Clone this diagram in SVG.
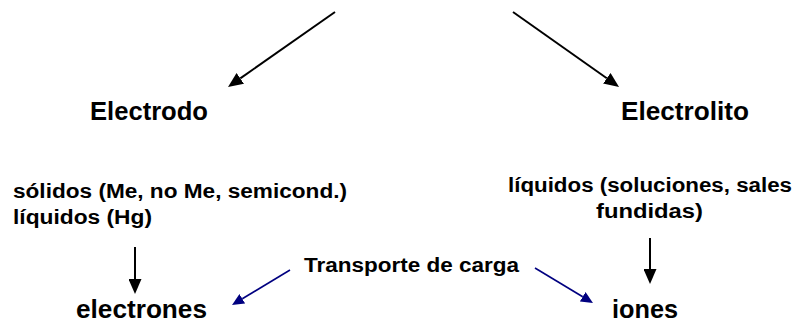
<svg xmlns="http://www.w3.org/2000/svg" width="797" height="323" viewBox="0 0 797 323">
<style>
text{font-family:"Liberation Sans",Arial,sans-serif;font-weight:bold;fill:#000}
.big{font-size:25px}
.small{font-size:20px}
.blk{stroke:#000;stroke-width:2;fill:none}
.blu{stroke:#000080;stroke-width:1.6;fill:none}
</style>
<defs>
<marker id="ah" markerUnits="userSpaceOnUse" markerWidth="15" markerHeight="13" refX="0" refY="6.5" orient="auto"><path d="M0,0 L15,6.5 L0,13 z" fill="#000"/></marker>
<marker id="ahb" markerUnits="userSpaceOnUse" markerWidth="12" markerHeight="11" refX="0" refY="5.5" orient="auto"><path d="M0,0 L12,5.5 L0,11 z" fill="#000080"/></marker>
</defs>
<rect width="797" height="323" fill="#fff"/>
<g id="electrodo"><text class="big" x="90" y="120" textLength="118" lengthAdjust="spacingAndGlyphs">Electrodo</text></g>
<g id="electrolito"><text class="big" x="621" y="120" textLength="128" lengthAdjust="spacingAndGlyphs">Electrolito</text></g>
<g id="solidos">
<text class="small" x="13" y="198" textLength="334" lengthAdjust="spacingAndGlyphs">sólidos (Me, no Me, semicond.)</text>
<text class="small" x="13" y="224" textLength="139" lengthAdjust="spacingAndGlyphs">líquidos (Hg)</text>
</g>
<g id="liquidos">
<text class="small" x="508" y="192" textLength="284" lengthAdjust="spacingAndGlyphs">líquidos (soluciones, sales</text>
<text class="small" x="596" y="218" textLength="107" lengthAdjust="spacingAndGlyphs">fundidas)</text>
</g>
<g id="transporte"><text class="small" x="304" y="272" textLength="215" lengthAdjust="spacingAndGlyphs">Transporte de carga</text></g>
<g id="electrones"><text class="big" x="76" y="317.5" textLength="131" lengthAdjust="spacingAndGlyphs">electrones</text></g>
<g id="iones"><text class="big" x="612" y="317.5" textLength="66" lengthAdjust="spacingAndGlyphs">iones</text></g>
<g id="connectors">
<line class="blk" x1="335" y1="12" x2="240.3" y2="78.4" marker-end="url(#ah)"/>
<line class="blk" x1="513" y1="12" x2="606.8" y2="78.3" marker-end="url(#ah)"/>
<line class="blk" x1="135" y1="247" x2="135" y2="279" marker-end="url(#ah)"/>
<line class="blk" x1="650" y1="238" x2="650" y2="269" marker-end="url(#ah)"/>
<line class="blu" x1="290" y1="270" x2="242.3" y2="298.8" marker-end="url(#ahb)"/>
<line class="blu" x1="535" y1="268" x2="582.7" y2="296.8" marker-end="url(#ahb)"/>
</g>
</svg>
